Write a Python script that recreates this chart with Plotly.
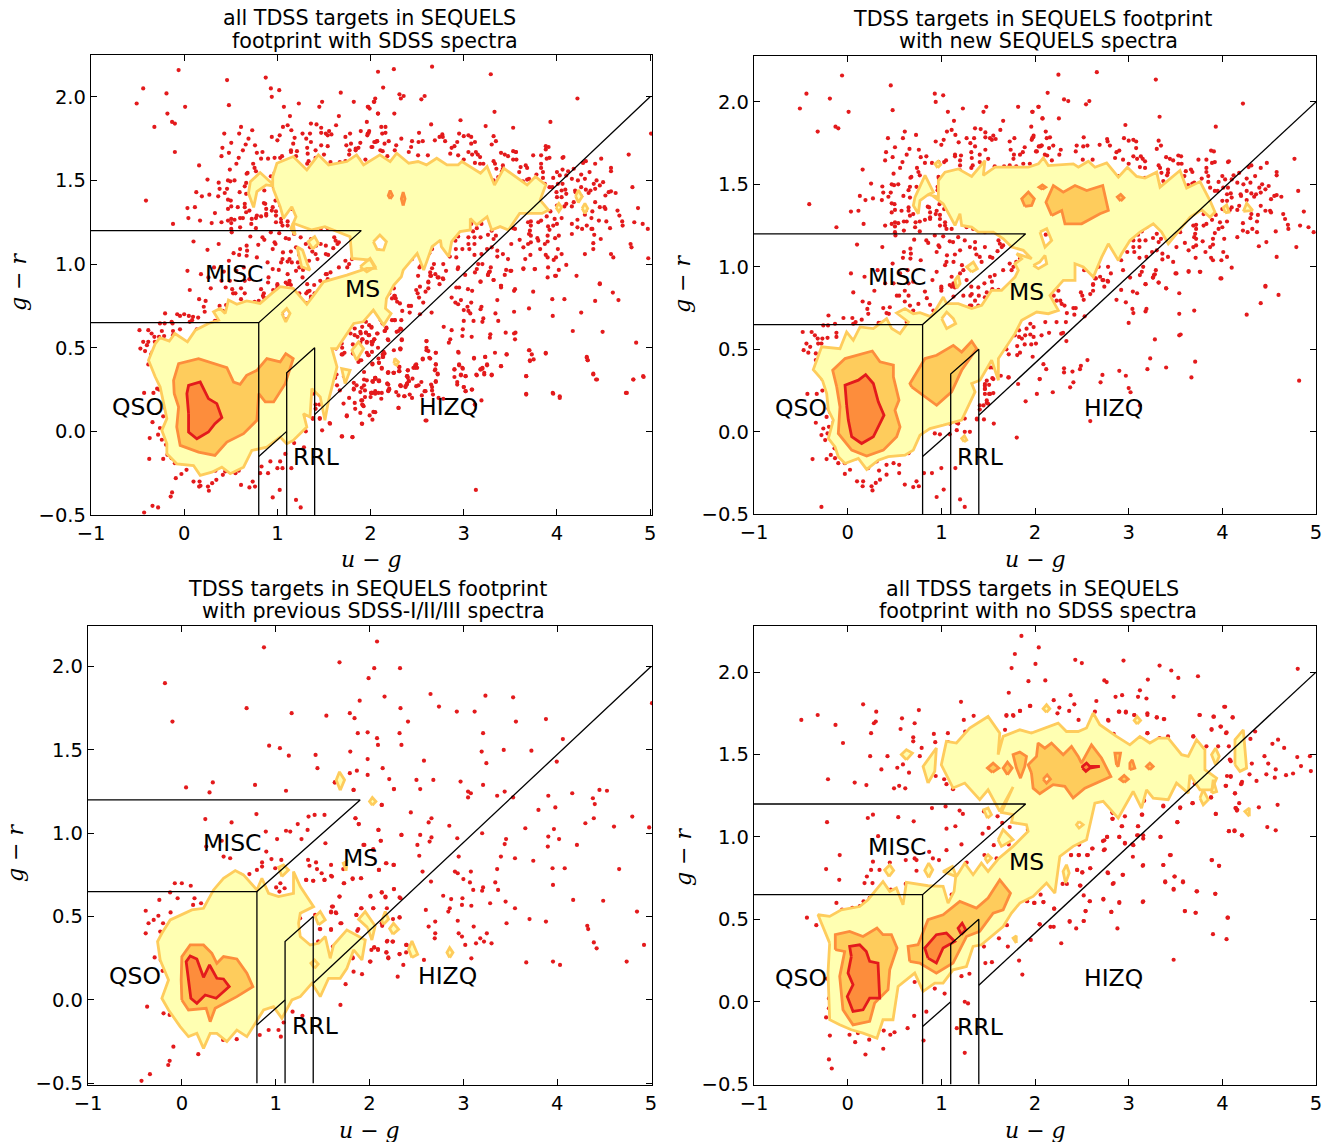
import plotly.graph_objects as go

W, H = 1342, 1142
# ---------- data: targets with new SEQUELS spectra (u-g, g-r)
new_spectra = [(-.51,1.96),(-.44,2.05),(-.06,2.16),(-.19,2.02),(.01,1.94),(-.32,1.82),(-.13,1.85),(-.10,1.84),(.16,1.59),(-.41,1.38),(-.12,1.24),(.46,2.10),(.48,1.95),(.93,2.05),(.94,2.0),(1.02,2.04),(1.07,1.94),(1.23,1.96),(1.135,1.885),(1.45,1.94),(1.48,1.97),(1.82,1.97),(1.97,1.94),(2.04,1.97),(2.08,1.90),(1.66,1.885),(1.63,1.83),(1.96,1.85),
(.61,1.82),(.73,1.80),(.43,1.78),(.59,1.78),(1.06,1.82),(1.11,1.83),(1.15,1.80),(.94,1.76),(1.025,1.77),(1.0,1.74),(1.185,1.755),(1.27,1.78),(1.36,1.84),(1.42,1.835),(1.47,1.815),(1.47,1.785),(1.52,1.78),(1.54,1.77),(1.555,1.795),(1.58,1.775),(1.31,1.75),(1.35,1.78),(1.36,1.73),
(1.73,1.76),(1.78,1.78),(1.97,1.78),(1.985,1.795),(1.89,1.725),(1.74,1.71),(2.02,1.70),(2.055,1.73),(2.07,1.735),(.505,1.725),(.41,1.695),(.48,1.665),(.40,1.645),(.66,1.715),(.63,1.68),(.76,1.71),(.78,1.665),(.84,1.67),(.585,1.635),(.56,1.60),(.825,1.63),(.90,1.63),(.97,1.635),(1.03,1.635),(1.05,1.645),(1.146,1.68),(1.146,1.67),(1.21,1.675),(1.20,1.645),(1.20,1.615),(1.20,1.585),(1.32,1.695),(1.325,1.66),(1.335,1.615),(1.32,1.60),(1.41,1.68),(1.41,1.635),(1.47,1.71),(1.50,1.655),(1.57,1.61),(1.67,1.61),(1.73,1.615),(1.77,1.655),(1.775,1.68),(1.84,1.68),(1.87,1.695),(1.80,1.61),(1.875,1.625),(1.945,1.625),
(.49,1.565),(.68,1.545),(.74,1.60),(.755,1.575),(.77,1.555),(.67,1.54),(.25,1.505),(.37,1.487),(.47,1.50),(.495,1.495),(.54,1.50),(.38,1.45),(.46,1.45),(.13,1.43),(.27,1.415),(.19,1.405),(.435,1.425),(.365,1.405),(.595,1.43),(.665,1.485),(.65,1.465),(.735,1.485),(.665,1.42),(.86,1.44),(.97,1.545),(.975,1.535),(.96,1.485),(.96,1.465),(1.15,1.51),(1.19,1.49),(1.20,1.535),
(.47,1.385),(.50,1.38),(.505,1.345),(.47,1.33),(.575,1.34),(.65,1.36),(.65,1.34),(.70,1.32),(.665,1.31),(.855,1.365),(.87,1.36),(.88,1.33),(.88,1.30),(.95,1.34),(.94,1.32),(.985,1.315),(.985,1.29),(.98,1.38),(1.03,1.35),(1.055,1.37),(1.15,1.38),(1.15,1.33),(1.18,1.335),(.035,1.335),(.115,1.34),
(.17,1.26),(.40,1.25),(.505,1.27),(.54,1.265),(.505,1.245),(.60,1.275),(.63,1.275),(.725,1.27),(.72,1.24),(.77,1.275),(.825,1.285),(.88,1.29),(.60,1.22),(.77,1.215),(.47,1.26),(1.04,1.27),(1.04,1.25),(1.055,1.23),(1.11,1.23),(.985,1.25),(1.27,1.24),(1.34,1.23),(1.465,1.21),(1.54,1.215),
(.10,1.135),(.37,1.12),(.505,1.21),(.51,1.19),(.71,1.165),(.67,1.11),(.60,1.09),(.675,1.08),(.59,1.055),(.67,1.05),(.78,1.04),(.84,1.16),(.86,1.145),(.93,1.19),(.97,1.13),(.98,1.12),(.95,1.09),(1.02,1.185),(1.09,1.155),(1.125,1.15),(1.18,1.18),(1.145,1.075),(1.2,1.10),(1.06,1.07),(1.055,1.03),(1.04,1.01),(1.13,1.03),(1.22,1.01),(1.25,1.16),(1.36,1.15),(1.36,1.11),(1.305,1.12),(1.465,1.12),(1.375,1.075),(1.41,1.06),(1.43,1.03),(1.52,1.06),(1.545,1.055),(1.61,1.16),(1.625,1.14),(1.66,1.13),(1.60,1.095),(1.645,1.12),(1.73,1.02),(1.77,1.0),(1.80,1.03),(1.84,1.05),(1.66,.98),(1.75,.98),
(.035,.96),(.18,.94),(.32,.98),(.48,1.02),(.40,.90),(.49,.90),(.56,.96),(.64,.98),(.70,.91),(.65,.90),(.905,.92),(.95,.97),(1.11,.94),(1.20,.96),(1.235,.98),(1.13,.90),(1.0,.88),(1.11,.88),(1.32,.88),(1.395,.875),(1.52,.94),(1.57,.95),(1.54,.91),
(.06,.845),(.285,.855),(.16,.79),(.23,.78),(.21,.745),(.22,.715),(-.205,.705),(-.045,.69),(.05,.69),(.15,.68),(.085,.665),(.06,.655),(-.26,.645),(-.21,.645),(-.135,.655),(.33,.66),(.355,.66),(.44,.715),(.38,.75),(.45,.755),(.415,.72),(.525,.825),(.55,.825),(.61,.855),(.65,.825),(.61,.79),(.665,.765),(.755,.775),(.70,.735),(.825,.85),(.845,.81),(.88,.77),(.915,.735),(.88,.69),(.63,.665),(.65,.645),(1.0,.87),(1.09,.89),(1.145,.875),(1.13,.82),(1.235,.825),(1.325,.835),(1.36,.795),(1.485,.845),(1.545,.865),(1.59,.845),(1.395,.765),(1.465,.815),(1.13,.765),(1.18,.765),(1.295,.745),(1.32,.765),(1.34,.715),(1.395,.725)]
new_qso = [(-.48,.605),(-.385,.605),(-.35,.585),(-.32,.565),(-.27,.565),(-.12,.60),(-.12,.575),(-.315,.535),(-.28,.535),(-.215,.57),(-.44,.535),(-.40,.515),(-.47,.495),(-.42,.48),(-.34,.475),(-.34,.435),(-.27,.32),(-.27,.25),(-.43,.23),(-.33,.23),(-.205,.20),(-.205,.14),(-.19,.12),(-.225,.09),(-.15,.06),(-.34,.055),(-.20,.03),(-.26,.02),(-.215,-.01),(-.28,-.02),(-.24,-.05),(-.14,-.10),(-.18,-.14),(-.375,-.165),(-.225,-.165),(-.135,-.16),(-.10,-.19),(-.03,-.19),(.095,-.16),(-.03,-.255),(.025,-.23),(.10,-.30),(.165,-.30),(.16,-.33),(.22,-.22),(.31,-.18),(.335,-.235),(.415,-.20),(.49,-.19),(.55,-.20),(.55,-.25),(.415,-.26),(.345,-.29),(.255,-.33),(.265,-.355),(.30,-.31),(.61,-.32),(.70,-.335),(.735,-.30),(.76,-.33),(.65,-.13),(.63,-.09),(.755,-.02),(.815,-.25),(.90,-.25),(1.0,-.22),(1.15,-.22),(1.025,-.35),(.95,-.395),(1.20,-.41),(1.25,-.455),(-.28,-.455),
(.93,-.01),(.985,-.015),(1.03,.05),(1.09,.05),(1.09,-.015),(1.165,.055),(1.18,.05),(1.25,.08),(1.165,.01),(1.25,0),(1.305,0),(1.38,.075),(1.465,.29),(1.465,.26),(1.52,.39),(1.545,.39),(1.465,.23),(1.45,.16),(1.485,.175),(1.555,.32),(1.715,.33),(1.82,.29),(2.05,.32),(1.90,.185),(2.02,.23),(1.805,-.035),(1.56,.05),(1.52,.23),(1.41,.135)]
new_strip = [(1.455,.075),(1.38,.08),(1.41,.16),(1.485,.19),(1.50,.17),(1.465,.28),(1.465,.26),(1.51,.285),(1.485,.31),(1.555,.235),(1.51,.23),(1.545,.325),(1.635,.34),(1.72,.33),(2.19,.24),(2.375,.27),(2.41,.30),(2.05,.32),(2.09,.41),(2.12,.38),(2.31,.385),(2.31,.36),(2.40,.365),(2.48,.38),(2.49,.40),(2.56,.435),(2.72,.345),(2.70,.30),(2.90,.37),(2.97,.34),(3.0,.265),(3.02,.24),(3.12,.16),(2.59,.065),(3.20,.38),(3.23,.445),(3.40,.39),(3.71,.425),(3.67,.33),(4.82,.31),(3.28,.56),(3.54,.585),(3.555,.59),(1.975,.455),
(1.63,.515),(1.63,.495),(1.69,.525),(1.695,.50),(1.72,.47),(1.81,.465),(1.84,.48),(1.81,.52),(1.89,.53),(1.96,.53),(2.01,.535),(1.785,.585),(1.83,.615),(1.83,.575),(1.86,.565),(1.895,.585),(1.95,.59),(1.985,.575),(1.91,.625),(1.95,.655),(1.985,.635),(2.07,.585),(2.15,.60),(2.28,.595),(2.30,.60),(2.335,.55),(2.11,.665),(2.23,.665),(2.33,.665),(2.42,.71),(2.34,.72),(2.41,.75),(2.435,.75),(2.53,.70),(1.85,.685),(2.20,.825),(2.23,.795),(2.27,.795),(2.285,.775),(2.315,.765),(2.25,.855),(2.49,.845),(2.505,.825),(2.52,.80),(2.59,.835),(2.62,.855),(2.62,.895),(2.73,.92),(2.65,.93),(2.78,.91),(2.92,.86),(2.87,.80),(2.97,.785),(3.04,.745),(3.05,.72),(3.045,.85),(3.09,.84),(3.0,.66),(3.19,.745),(3.18,.73),(3.18,.895),(3.32,.905),(3.40,.87),(3.27,.95),(3.26,.935),(3.54,.84),(3.54,.715),(3.70,.735),(3.51,.96),(3.64,.97),(3.76,.97),(3.99,.93),(4.26,.71),(4.41,.78),(4.46,.88),(4.60,.83),
(1.0,.855),(1.13,.885),(1.27,.92),(1.31,.825),(1.40,.825),(1.305,.765),(1.46,.90),(1.54,.855),(1.61,.86)]
new_upper = [(2.25,2.165),(2.66,2.18),(3.29,2.135),(2.135,2.055),(2.31,2.015),(2.355,2.005),(2.58,2.005),(2.545,1.985),(2.035,1.97),(1.975,1.94),(2.08,1.90),(2.255,1.90),(3.33,1.91),(2.965,1.86),(3.93,1.85),(4.22,1.99),(2.115,1.82),(2.16,1.785),(2.125,1.78),(1.98,1.785),(1.965,1.77),(2.445,1.735),(2.52,1.785),(2.56,1.735),(2.515,1.73),(2.69,1.74),(2.77,1.775),(2.775,1.76),(2.80,1.735),(2.95,1.78),(3.0,1.765),(3.05,1.77),(3.08,1.76),(3.08,1.72),(3.32,1.765),(3.345,1.735),(3.30,1.715),(2.07,1.735),(2.04,1.73),(2.15,1.72),(2.195,1.735),(2.275,1.71),(2.26,1.68),(2.01,1.70),(2.105,1.68),(2.13,1.675),(2.18,1.645),(2.435,1.70),(2.51,1.65),(2.615,1.65),(2.90,1.705),(2.87,1.695),(2.855,1.66),(2.94,1.65),(3.05,1.67),(3.09,1.655),(3.13,1.67),(3.15,1.655),(3.175,1.64),(3.175,1.60),(3.12,1.605),(3.0,1.625),(3.40,1.665),(3.44,1.655),(3.475,1.645),(3.53,1.675),(3.56,1.67),(3.53,1.625),(3.565,1.625),(3.745,1.65),(3.83,1.65),(3.88,1.705),(3.91,1.70),(3.89,1.63),(3.83,1.60),(3.92,1.635),(4.06,1.635),(4.07,1.64),(4.31,1.615),(4.28,1.605),(4.475,1.63),(4.41,1.60),(4.77,1.655),(4.58,1.575),(4.58,1.555),(4.81,1.46),(4.87,1.335),(4.975,1.21),(4.92,1.24),(4.83,1.25),(4.70,1.255),(4.705,1.23),(4.65,1.32),(4.67,1.29),(4.79,1.12),(4.57,1.215),(4.51,1.34),(4.52,1.33),(4.46,1.34),(4.38,1.315),(4.47,1.15),(4.39,1.125),(4.58,1.06),(4.37,1.21),(4.31,1.32),(4.30,1.295),(4.22,1.265),(4.22,1.22),(4.27,1.21),(4.32,1.23),(4.37,1.275),(4.16,1.18),
(4.41,1.37),(4.52,1.41),(4.555,1.43),(4.58,1.435),(4.63,1.425),(4.195,1.44),(4.20,1.43),(4.26,1.46),(4.31,1.445),(4.36,1.44),(4.34,1.425),(4.41,1.45),(4.46,1.47),(4.495,1.49),(4.425,1.50),(4.395,1.48),(4.35,1.55),(4.30,1.51),(4.26,1.535),(4.225,1.50),(4.16,1.51),(4.10,1.53),(4.12,1.555),(4.18,1.57),(4.03,1.53),(4.0,1.55),(4.06,1.48),(3.96,1.515),(4.01,1.48),(3.92,1.46),(3.95,1.46),(4.05,1.44),(4.09,1.445),(4.10,1.42),(4.0,1.40),(4.05,1.40),(4.10,1.36),(4.08,1.345),(4.16,1.345),(4.18,1.37),(4.26,1.405),(4.0,1.35),
(3.87,1.48),(3.85,1.515),(3.85,1.55),(3.83,1.575),(3.68,1.505),(3.70,1.51),(3.665,1.59),(3.68,1.575),(3.61,1.58),(3.78,1.535),(3.595,1.55),(3.635,1.495),(3.60,1.47),(3.42,1.59),(3.42,1.57),(3.335,1.60),(3.32,1.615),(3.35,1.57),(3.37,1.52),(3.32,1.50),(3.41,1.555),(3.175,1.54),(2.89,1.55),
(3.93,1.315),(3.80,1.32),(3.89,1.285),(3.80,1.25),(3.83,1.26),(3.69,1.25),(3.72,1.255),(3.72,1.23),(3.975,1.27),(4.05,1.275),(4.0,1.24),(3.96,1.23),(3.92,1.205),(3.90,1.17),(3.90,1.135),(3.87,1.12),(4.02,1.17),(3.71,1.20),(3.70,1.18),(3.72,1.17),(3.79,1.155),(3.72,1.13),(3.69,1.12),(3.60,1.145),(3.64,1.10),(3.51,1.12),(3.55,1.21),(3.42,1.27),(3.44,1.255),(3.41,1.31),(3.19,1.24),(3.10,1.195),(3.14,1.215),(2.94,1.165),(2.91,1.14),(3.05,1.16),(3.115,1.16),(3.18,1.16),(3.30,1.20),(3.26,1.175),(3.32,1.15),(3.345,1.17),(3.05,1.12),(3.115,1.12),(3.06,1.09),(2.915,1.09),(2.985,1.09),(3.25,1.09),(3.30,1.10),(3.36,1.08),(3.42,1.06),(3.36,1.045),(3.475,1.03),(3.115,1.055),(3.19,1.06),(3.715,1.055),(3.82,1.09),(3.88,1.055),(3.90,1.04),(3.99,1.04),(4.01,1.09),(4.05,1.06),(4.10,.995),(3.64,.975),(3.765,.97),(3.50,.96),(3.29,.98),(3.155,1.0),(3.14,.97),(3.12,.95),(3.28,.955),(3.26,.935),(3.18,.895),(3.32,.905),(3.015,.935),(2.92,1.04),(2.94,.98),(3.98,.93),(4.46,.885),(3.40,.87),(2.445,1.03),(2.68,1.0),(2.525,.98),(2.78,1.0),(2.81,.96),(2.695,.94),(2.72,.92),(2.775,.915),(2.64,.93),(2.62,.89),(2.74,.88),(2.18,1.165),(2.09,1.245),(2.115,1.195),(2.09,1.08),(2.115,1.075),(1.98,1.03),(2.02,1.04),(2.12,1.61)]

# ---------- targets with previous SDSS-I/II/III spectra
prev_low = [(.045,1.275),(.33,1.305),(.295,1.245),(.78,1.29),(1.11,1.255),(1.63,1.305),(1.83,1.26),(2.26,1.265),(2.13,1.17),(.795,1.115),(.25,1.085),(.53,1.065),(.895,1.01),(1.11,1.015),(1.155,1.01),(1.235,1.055),(1.34,1.02),(1.35,1.10),(1.415,1.11),(1.52,1.11),(1.275,.965),(1.53,.94),(1.015,.965),(1.85,1.09),(1.885,1.055),(2.095,1.02),(2.34,.99),(2.12,.955),(1.935,.93),(2.04,.90),(.425,.955),(.26,.92),(.90,.89),(.445,.86),(.515,.85),(.955,.845),(1.06,.84),(.855,.825),(.855,.80),(.80,.78),(.72,.755),(.635,.75),(.68,.725),(.995,.79),(1.345,.84),(1.43,.825),(1.36,.805),(1.44,.785),(1.49,.76),(1.59,.81),(1.72,.785),(1.745,.82),(1.59,.745),(1.325,.72),(1.40,.715),(1.52,.72),(1.725,.70),(1.82,.73),(1.91,.73),(2.175,.82),(2.255,.81),(2.10,.78),(-.075,.70),(0,.70),(.095,.685),(-.125,.645),(-.045,.61),(.135,.61),(.12,.57),(.205,.58),(-.24,.60),(-.385,.535),(-.12,.525),(-.355,.46),(-.30,.48),(-.25,.505),(-.20,.46),(-.23,.41),(-.385,.40),(-.225,.31),(-.29,.255),(-.225,.24),(-.205,.175),(-.37,-.04),(-.195,-.08),(-.13,-.09),(-.025,-.10),(.05,-.175),(-.09,-.28),(-.13,-.365),(-.145,-.39),(-.34,-.445),(-.43,-.485),(.175,-.325),(.44,-.24),(.585,-.235),(.83,-.21),(.925,-.18),(1.03,-.18),(1.055,-.22),(1.085,-.135),(1.18,-.07),(1.285,-.095),(.95,-.04),(1.69,-.03),(1.455,.08),(1.745,.095),(1.83,.17),(1.92,.155),(1.82,.25),(2.01,.23),(1.62,.32),(1.475,.425),(1.59,.42),(1.69,.46),(1.455,.35),(1.385,.225),(1.26,.49),(1.59,.525),(1.64,.525),(1.60,.56),(1.68,.62),(1.86,.51),(1.91,.55),(2.01,.62),(2.04,.55),(2.17,.62),(2.26,.665),(2.13,.645),(2.32,.615),(2.13,.46),(2.32,.495),(2.02,.405),(2.185,.35),(2.245,.35),(2.05,.315),(2.09,.305),(2.18,.285),(2.32,.275),(2.2,.255),(2.39,.33),(2.36,.21),(2.30,.14),(1.87,.415),(1.005,.675),(1.05,.70),(1.095,.67),(1.04,.65)]
prev_high = [(.875,2.115),(2.08,2.15),(1.68,2.025),(2.05,1.99),(2.325,1.99),(1.99,1.93),(1.895,1.795),(2.16,1.82),(2.65,1.835),(2.74,1.76),(2.93,1.73),(3.12,1.73),(3.235,1.825),(3.53,1.815),(3.56,1.67),(3.88,1.685),(4.06,1.565),(5.01,1.78),(1.17,1.72),(1.54,1.705),(1.79,1.72),(1.84,1.69),(2.33,1.75),(2.41,1.67),(1.875,1.60),(1.98,1.605),(2.08,1.57),(2.09,1.53),(2.32,1.60),(2.34,1.53),(3.21,1.60),(3.195,1.49),(3.245,1.42),(3.43,1.50),(3.725,1.495),(3.995,1.43),(.93,1.525),(1.045,1.51),(1.14,1.465),(1.425,1.47),(1.445,1.39),(1.795,1.49),(1.98,1.445),(2.14,1.39),(2.58,1.435),(1.865,1.375),(1.79,1.36),(1.98,1.35),(2.21,1.325),(2.50,1.32),(2.68,1.32),(2.97,1.31),(3.21,1.29),(2.26,1.265),(2.54,1.265),(3.05,1.25),(3.08,1.24),(3.05,1.215),(3.36,1.225),(3.44,1.25),(3.53,1.215),(3.905,1.225),(4.16,1.24),(4.45,1.26),(4.53,1.255),(4.38,1.21),(4.40,1.175),(3.98,1.155),(3.80,1.14),(1.63,1.305),(1.83,1.26),(2.13,1.17),(2.44,1.125),(2.66,1.09),(2.63,1.065),(2.85,1.045),(4.80,1.10),(4.39,1.09),(4.30,1.06),(4.605,1.04),(4.98,1.035),(3.66,1.03),(3.965,1.025),(1.85,1.09),(1.885,1.055),(2.095,1.02),(2.34,.99),(2.54,.99),(2.66,.975),(2.935,.97),(3.20,1.0),(3.455,.965),(3.44,.935),(3.905,.98),(4.02,.965),(3.90,.92),(4.21,.93),(2.12,.955),(2.51,.93),(2.64,.95),(1.945,.93),(2.53,.865),(2.95,.86),(3.40,.86),(3.55,.85),(3.745,.835),(2.18,.82),(2.26,.81),(2.04,.905),(2.10,.78),(2.565,.77),(2.91,.77),(2.94,.76),(3.08,.77),(3.36,.785),(3.95,.79),(4.08,.79),(4.66,.785),(3.0,.725),(3.07,.705),(3.34,.705),(2.655,.71),(3.955,.69),(3.105,.66),(3.21,.675),(3.20,.655),(3.37,.66),(2.26,.665),(2.13,.645),(2.17,.615),(2.01,.625),(2.33,.61),(1.68,.62),(1.91,.73),(1.82,.725),(1.73,.70),(1.60,.74),(1.52,.72),(1.40,.715),(1.325,.72),(2.785,.625),(2.87,.605),(2.99,.61),(2.985,.57),(3.085,.565),(3.285,.58),(3.45,.59),(3.55,.55),(4.17,.60),(4.49,.595),(4.85,.53),(2.60,.54),(2.855,.55),(2.84,.53),(2.94,.475),(3.46,.46),(3.705,.485),(3.88,.47),(2.70,.47),(2.63,.44),(3.11,.44),(2.70,.40),(2.95,.40),(2.985,.38),(2.695,.37),(3.18,.37),(3.25,.40),(3.22,.35),(3.30,.34),(3.135,.34),(3.02,.33),(4.32,.445),(4.33,.425),(4.39,.345),(4.42,.31),(4.925,.33),(3.085,.25),(3.67,.225),(3.955,.23),(4.03,.21),(4.74,.23),
(2.25,.485),(2.32,.495),(2.14,.475),(2.135,.445),(2.02,.40),(1.88,.425),(1.59,.425),(1.47,.425),(1.70,.46),(1.59,.53),(1.645,.52),(1.61,.56),(1.86,.51),(1.915,.55),(2.04,.55),(2.185,.55),(2.25,.35),(2.19,.355),(2.05,.315),(2.09,.30),(2.02,.30),(2.18,.285),(2.20,.25),(2.32,.275),(2.395,.33),(2.39,.285),(2.58,.24),(2.005,.23),(1.82,.255),(1.61,.32),(1.455,.35),(1.25,.49),(1.42,.51),(-.18,1.90),(-.10,1.67),(.69,1.75)]

# ---------- points seen only in the top-left panel
all_extra = [(1.89,.11),(1.99,.095),(2.05,.115),(2.02,.07),(1.91,.045),(2.30,.14),(2.60,.065),(3.13,-.35),(3.12,.16),(3.19,.185),(3.67,.22),(3.96,.225),(4.03,.20),(4.75,.23),(4.82,.31),(4.93,.325),(4.43,.31),(4.39,.34),(4.33,.425),(4.32,.44),(3.67,.33),(3.88,.465),(3.75,.43),(3.71,.42),(3.73,.46),(3.70,.485),(3.30,.335),(3.22,.34),(3.14,.335),(3.18,.37),(3.20,.375),(3.25,.395),(3.40,.39),(3.11,.435),(3.23,.445),(3.335,.47),(3.46,.46),(3.09,.25),(3.0,.265),(3.02,.24),(3.02,.33),(2.97,.335),(2.90,.325),(2.93,.295),(2.93,.28),(2.90,.37),(2.95,.395),(2.99,.375),(2.72,.34),(2.69,.365),(2.70,.40),(2.70,.47),(2.64,.435),(2.56,.43),(2.60,.485),(2.62,.48),(2.60,.50),(2.60,.54),(2.945,.47),
(2.70,.295),(2.65,.28),(2.66,.265),(2.66,.245),(2.67,.22),(2.59,.24),(2.55,.215),(2.73,.20),(2.78,.195),(2.545,.295),(2.515,.275),(2.49,.27),(2.41,.30),(2.39,.28),(2.375,.265),(2.325,.27),(2.45,.315),(2.40,.32),(2.40,.365),(2.305,.36),(2.305,.385),(2.46,.38),(2.48,.395),(2.50,.38),(2.25,.35),(2.19,.35),(2.12,.375),(2.09,.41),(2.085,.435),(2.13,.445),(2.15,.465),(2.32,.49),(2.335,.545),(2.19,.545),(2.19,.28),(2.19,.245),(2.12,.23),(2.085,.23),(2.05,.24),(2.01,.23),(2.025,.295),(2.05,.315),(2.09,.30),(2.275,.235),(2.30,.215),(2.365,.21),(2.42,.22),(2.445,.20),(2.115,.195),(1.94,.205),(1.91,.185),(1.925,.15),(1.93,.31),(1.93,.275),(1.905,.26),(1.89,.235),(1.94,.245),(1.93,.355),
(2.075,.585),(2.155,.60),(1.98,.575),(1.95,.59),(2.025,.535),(2.015,.52),(2.08,.50),(1.96,.535),(1.96,.47),(1.98,.455),(2.015,.475),(1.89,.595),(1.90,.425),(1.89,.505),(1.695,-.03),(1.806,-.034),(1.906,.046),(1.745,.09),(1.835,.135),(1.91,.16),(2.03,.116),(2.05,.225),(2.0,.205),(1.71,.166),(1.77,.20),(1.67,.245),(1.85,.275),(1.96,.305),(1.64,.275),(1.565,.046),(1.48,.006)]

# ---------- targets with no SDSS spectra
none_low = [(-.32,1.74),(-.13,1.68),(-.495,1.71),(.305,1.76),(.30,1.70),(.28,1.69),(.165,1.805),(.58,1.72),(.76,1.77),(.715,1.69),(.565,1.655),(-.05,1.57),(.25,1.63),(.425,1.49),(.24,1.49),(.70,1.605),(.70,1.58),(.92,1.625),(.935,1.575),(.79,1.54),(.77,1.49),(1.07,1.63),(1.07,1.575),(1.16,1.56),(1.24,1.71),(1.345,1.735),(1.255,1.64),(1.21,1.82),(1.695,1.74),(1.765,1.74),(1.84,1.765),(1.945,1.795),(1.68,1.65),(1.96,1.625),(1.57,1.57),(.36,1.41),(.53,1.42),(.59,1.44),(.655,1.39),(.91,1.49),(.94,1.37),(-.21,1.35),(.075,1.33),(.20,1.315),(.495,1.295),(.55,1.31),(.615,1.295),(1.03,1.35),(1.055,1.32),(1.125,1.29),(1.385,1.465),
(-.22,1.09),(.215,1.115),(.27,1.135),(.54,1.12),(.705,1.095),(.90,1.175),(1.045,1.185),(1.195,1.16),(1.23,1.14),(1.455,1.155),(1.60,1.125),(1.505,1.055),(1.055,1.05),(1.15,1.065),(1.65,1.085),(1.44,1.02),(1.56,.95),(.325,1.005),(-.085,.89),(.87,.91),(.91,.87),(.975,.86),(1.055,.92),(1.215,.955),(.715,.87),(.735,.86),(.62,.86),(.27,.85),(.45,.845),(1.27,.845),(1.46,.89),(1.59,.87),(-.23,.805),(.25,.80),(.34,.80),(.735,.795),(.205,.76),(-.09,.74),(.18,.72),(.265,.72),(.46,.68),(.62,.715),(.625,.66),(1.11,.65),(.235,.63),(-.12,.60),(-.06,.56),(.05,.57),(.13,.58),(.17,.61),(-.435,.51),(-.335,.465),
(.555,.23),(.715,.12),(.51,.035),(.93,.08),(1.035,.05),(1.215,.155),(1.30,.17),(1.25,0),(1.285,-.01),(1.54,.24),(1.47,.235),(1.455,.335),(1.49,.385),(1.615,.385),(1.71,.335),(1.70,.465),(1.58,.545),(1.915,.61),(1.99,.60),(2.09,.605),(2.205,.565),(2.05,.47),(2.165,.455),(2.20,.455),(2.44,.445),(1.955,.375),(2.28,.355),(1.83,.25),(1.865,.165),(2.37,.485),(2.52,.49),(2.54,.55),(2.815,.545),(2.73,.625),(2.585,.61),(2.90,.605),(2.88,.445),(3.155,.61),(3.60,.55),(3.715,.54),(4.055,.51),(3.90,.41),(4.045,.38),(3.48,.255),(3.725,.67),(3.925,.655),(3.48,.685),(3.58,.725),(3.49,.76),(3.39,.725),(3.37,.83),(3.44,.89),(3.155,.83),(3.89,.86),(3.965,.825),(3.34,1.0),(3.52,1.09),(2.935,.77),(2.83,.715),(2.775,.785),(2.59,.81),(2.505,.785),(2.45,.80),(2.485,.705),(2.295,.715),(2.385,.89),(2.465,.89),(2.555,.89),(2.615,.93),(2.47,.955),(2.52,1.10),(2.74,.98),(2.77,1.0),(2.735,.92),(2.90,1.0),(2.925,1.065),(2.83,1.145),(2.83,1.11),(2.96,.96),(3.05,.95),(3.10,1.01),(3.10,1.065),(3.145,1.135),(3.155,1.01),(2.70,1.245),(3.165,1.22),(3.37,1.185),(3.55,1.175),(3.685,1.205),(3.88,1.24),(3.93,1.14),(4.13,1.04),(4.07,1.035),(4.21,1.01),(4.145,1.175),(4.16,1.165),(4.135,1.265),(4.205,1.325),(4.09,1.37),(4.04,1.31),(4.08,1.47),(3.98,1.67),(4.045,1.635),(3.885,1.65),(4.11,1.725),(3.905,1.73),(3.76,1.74),(4.03,1.79),(3.42,1.61),(3.33,1.60),(3.2,1.63),(3.08,1.57),(3.09,1.53),(3.2,1.74),(3.06,1.74),(3.30,1.725),(3.375,1.715),(2.97,1.76),(2.90,1.76),(2.78,1.71),(2.58,1.655),(2.84,1.625),(3.62,1.47),(3.69,1.61),(3.76,1.53),(3.71,1.325),
(.71,-.085),(.84,-.06),(.81,-.235),(.64,-.16),(.50,-.185),(.455,-.20),(.385,-.175),(.20,-.18),(.23,-.23),(.11,-.19),(.02,-.20),(.08,-.245),(-.19,-.205),(-.23,-.095),(-.20,-.04),(-.12,-.11),(-.16,.015),(-.20,.02),(-.22,.14),(.38,-.285),(.19,-.32),(-.20,-.35),(-.17,-.405),(1.165,-.16),(1.25,-.31),(1.39,.79),(1.81,1.255),(1.925,1.045),(2.16,.93)]
none_high = [(1.855,2.22),(2.04,2.15),(1.785,2.11),(1.75,2.025),(2.005,2.05),(1.93,1.945),(2.11,1.95),(1.72,1.875),(2.43,2.075),(2.50,2.055),(2.945,2.07),(3.33,2.04),(3.455,2.01),(3.53,1.965),(3.74,1.975),(4.805,2.02),(3.205,1.955),(2.74,1.95),(2.765,1.94),(3.12,1.89),(3.10,1.85),(3.19,1.84),(3.48,1.85),(2.86,1.85),(2.93,1.86),(2.38,1.86),(2.2,1.83),(2.42,1.805),(2.655,1.825),(1.95,1.795),(2.26,1.785),(2.365,1.765),(2.24,1.75),(1.84,1.765),(1.695,1.735),(1.77,1.735),(2.64,1.76),(2.895,1.76),(2.97,1.755),(3.06,1.74),(3.2,1.75),(3.30,1.725),(3.38,1.715),(2.785,1.705),(2.465,1.71),(3.755,1.74),(3.91,1.73),(4.02,1.79),(4.11,1.725),(3.885,1.655),(3.985,1.67),(4.04,1.63),(4.35,1.64),(4.30,1.595),(3.2,1.63),(3.69,1.61),(3.83,1.55),(3.955,1.55),(4.07,1.55),(4.595,1.59),(4.535,1.565),(4.66,1.54),(4.45,1.49),(4.49,1.445),(4.80,1.485),(4.935,1.49),(4.84,1.43),(4.945,1.40),(4.755,1.385),(4.68,1.375),(4.57,1.41),(4.47,1.38),(4.56,1.36),(4.365,1.34),(4.29,1.38),(4.21,1.335),(4.20,1.32),(4.315,1.445),(4.09,1.46),(4.16,1.51),(3.92,1.50),(4.05,1.37),(4.09,1.365),(4.035,1.31),(4.135,1.265),(4.18,1.205),(4.14,1.175),(4.155,1.16),(4.39,1.18),(4.59,1.195),(4.48,1.06),(4.57,1.04),(4.21,1.01),(4.13,1.035),(4.07,1.035),(3.93,1.14),(3.88,1.24),(3.68,1.205),(3.55,1.18),(3.37,1.19),(3.52,1.09),(3.21,1.295),(3.16,1.22),(3.14,1.135),(2.96,1.125),(2.825,1.15),(2.825,1.11),(3.10,1.065),(2.93,1.065),(2.70,1.25),(3.61,1.47),(3.705,1.325),(3.09,1.535),(2.52,1.10),(1.925,1.05),(1.73,1.06),(1.72,.955),(2.165,.935),(2.47,.955),(2.61,.93),(2.745,.925),(2.725,.975),(2.77,1.0),(2.90,1.0),(2.96,.965),(3.09,1.01),(3.155,.99),(3.34,1.0),(3.04,.955),(2.385,.89),(2.47,.89),(2.565,.89),(3.045,.88),(3.45,.89),(3.885,.86),(3.965,.825),(3.15,.825),(3.37,.83),(2.45,.80),(2.505,.785),(2.59,.81),(2.78,.78),(2.94,.77),(3.49,.76),(3.39,.73),(3.58,.73),(2.84,.72),(2.48,.705),(2.34,.715),(2.52,.645),(2.06,.65),(3.48,.68),(3.73,.67),(3.925,.655),(2.73,.62),(2.585,.61),(2.90,.60),(3.15,.605),(1.915,.61),(1.995,.60),(2.09,.605),(2.205,.565),(2.54,.55),(2.815,.545),(3.60,.55),(3.715,.54),(4.06,.51),(2.37,.49),(2.52,.49),(2.05,.47)]

# ---------- density contours, one list of rings per level; holes are punched through
a_L1 = [[(-.383,.425),(-.31,.525),(-.26,.56),(-.16,.54),(-.10,.585),(.035,.535),(.12,.605),(.26,.645),(.37,.665),(.315,.715),(.385,.735),(.44,.705),(.475,.785),(.565,.76),(.67,.78),(.815,.765),(.94,.825),(1.03,.865),(1.17,.855),(1.316,.76),(1.405,.825),(1.495,.894),(1.745,.934),(1.96,.974),(2.05,.974),(2.0,1.024),(1.8,1.034),(1.78,1.164),(1.6,1.204),(1.51,1.224),(1.37,1.204),(1.17,1.244),(1.2,1.283),(1.155,1.343),(1.065,1.273),(1.03,1.343),(.96,1.443),(.94,1.483),(.815,1.547),(.71,1.493),(.69,1.423),(.745,1.339),(.78,1.433),(.88,1.473),(.95,1.467),(.95,1.523),(.995,1.603),(1.17,1.643),(1.316,1.563),(1.44,1.653),(1.55,1.593),(1.745,1.613),(1.85,1.653),(1.925,1.593),(2.10,1.653),(2.21,1.613),(2.28,1.663),(2.41,1.603),(2.51,1.613),(2.60,1.593),(2.71,1.633),(2.82,1.593),(2.94,1.593),(2.98,1.613),(3.18,1.543),(3.25,1.583),(3.33,1.473),(3.43,1.573),(3.68,1.473),(3.77,1.523),(3.88,1.473),(3.82,1.383),(3.91,1.323),(3.84,1.303),(3.60,1.303),(3.48,1.204),(3.39,1.224),(3.30,1.204),(3.25,1.283),(3.14,1.234),(3.07,1.273),(3.07,1.204),(2.96,1.194),(2.87,1.134),(2.84,1.044),(2.76,1.104),(2.75,1.144),(2.66,1.104),(2.57,.964),(2.50,1.064),(2.35,.964),(2.33,.924),(2.25,.874),(2.17,.794),(2.16,.735),(2.22,.705),(2.14,.635),(2.03,.725),(1.92,.655),(1.82,.645),(1.745,.585),(1.64,.495),(1.585,.495),(1.64,.385),(1.55,.186),(1.51,.066),(1.46,.206),(1.37,.255),(1.35,.086),(1.28,.106),(1.316,.026),(1.17,-.054),(1.10,-.074),(1.03,-.034),(.887,-.094),(.726,-.114),(.637,-.214),(.494,-.253),(.404,-.214),(.297,-.244),(.172,-.263),(.10,-.204),(-.08,-.194),(-.186,-.134),(-.186,-.074),(-.24,.006),(-.186,.076),(-.22,.166),(-.258,.265),(-.31,.325)],
[(1.80,.485),(1.87,.535),(1.925,.495),(1.85,.425)],[(1.69,.375),(1.78,.365),(1.727,.285)],[(2.26,.435),(2.30,.415),(2.28,.395),(2.25,.405)],[(4.23,1.443),(4.27,1.403),(4.23,1.369),(4.20,1.407)],[(4.30,1.363),(4.33,1.333),(4.30,1.303),(4.27,1.333)],[(4.02,1.363),(4.05,1.339),(4.02,1.313),(3.99,1.339)],[(1.33,1.134),(1.40,1.164),(1.44,1.124),(1.38,1.09)],[(1.21,1.104),(1.26,.984),(1.35,.964),(1.32,1.004),(1.27,1.084)],[(1.145,1.214),(1.17,1.244),(1.19,1.174)]]
a_L1_holes = [[(2.03,1.134),(2.10,1.174),(2.17,1.134),(2.14,1.084),(2.07,1.088)],[(1.888,.984),(1.995,1.034),(2.05,.984),(1.96,.954)],[(1.048,.705),(1.10,.735),(1.136,.705),(1.09,.655)]]
a_L2 = [[(-.114,.305),(-.06,.405),(.154,.435),(.458,.381),(.53,.295),(.60,.281),(.67,.335),(.78,.365),(.83,.395),(.887,.435),(1.03,.415),(1.09,.465),(1.17,.435),(1.084,.285),(.96,.176),(.87,.176),(.80,.226),(.78,.066),(.637,-.014),(.458,-.064),(.33,-.144),(.154,-.124),(-.043,-.084),(-.08,.026),(-.06,.146),(-.107,.226)],[(2.19,1.41),(2.21,1.44),(2.235,1.41),(2.21,1.39)],[(2.33,1.39),(2.35,1.43),(2.37,1.39),(2.35,1.35)]]
a_L3 = [[(.029,.226),(.047,.275),(.172,.295),(.26,.196),(.35,.166),(.404,.082),(.33,.046),(.26,-.004),(.136,-.044),(.047,-.004),(.047,.106)]]

b_L1 = [[(-.367,.377),(-.278,.515),(-.082,.504),(-.011,.605),(.06,.555),(.132,.636),(.274,.626),(.416,.686),(.47,.626),(.559,.595),(.648,.666),(.523,.72),(.612,.747),(.701,.716),(.772,.722),(.879,.70),(.915,.716),(1.021,.817),(1.057,.777),(1.181,.777),(1.324,.747),(1.431,.767),(1.537,.858),(1.644,.858),(1.751,.918),(1.786,.938),(1.822,.979),(1.786,1.019),(1.858,1.049),(1.804,1.08),(1.964,1.049),(1.875,1.10),(1.751,1.12),(1.662,1.17),(1.555,1.211),(1.395,1.211),(1.324,1.241),(1.217,1.251),(1.199,1.322),(1.146,1.251),(1.075,1.322),(1.021,1.382),(.879,1.443),(.915,1.453),(.826,1.554),(.719,1.423),(.701,1.372),(.754,1.322),(.772,1.402),(.861,1.439),(.968,1.423),(.968,1.523),(1.039,1.574),(1.181,1.594),(1.324,1.548),(1.466,1.644),(1.448,1.554),(1.573,1.604),(1.929,1.604),(2.036,1.624),(2.089,1.661),(2.142,1.614),(2.409,1.624),(2.463,1.604),(2.569,1.64),(2.64,1.604),(2.765,1.63),(2.89,1.544),(2.986,1.604),(3.085,1.548),(3.174,1.538),(3.299,1.574),(3.335,1.483),(3.548,1.584),(3.619,1.477),(3.762,1.517),(3.868,1.402),(3.922,1.332),(3.868,1.301),(3.779,1.346),(3.655,1.301),(3.541,1.221),(3.423,1.14),(3.352,1.211),(3.263,1.261),(3.121,1.211),(3.014,1.16),(2.925,1.08),(2.89,1.039),(2.783,1.14),(2.712,1.059),(2.623,.938),(2.516,.999),(2.427,1.019),(2.427,.918),(2.302,.918),(2.16,.827),(2.249,.736),(2.142,.716),(2.018,.726),(1.858,.676),(1.786,.595),(1.609,.444),(1.609,.313),(1.537,.434),(1.413,.313),(1.324,.293),(1.36,.242),(1.217,.071),(1.021,.04),(.879,.02),(.772,-.02),(.701,-.111),(.612,-.141),(.434,-.151),(.327,-.172),(.203,-.228),(.114,-.161),(-.028,-.192),(-.1,-.151),(-.135,-.091),(-.206,-.04),(-.153,.071),(-.206,.131),(-.224,.232),(-.27,.313)],
[(1.27,.999),(1.342,1.029),(1.384,.989),(1.324,.969)],[(1.146,.918),(1.181,.948),(1.2,.898),(1.164,.87)],[(.932,1.625),(.968,1.64),(.993,1.62),(.961,1.6)],[(4.26,1.386),(4.324,1.342),(4.224,1.336)],[(4.011,1.36),(4.046,1.376),(4.071,1.332),(4.029,1.328)],[(1.217,-.04),(1.246,-.024),(1.271,-.05),(1.242,-.06)]]
b_L1_holes = [[(1.004,.686),(1.057,.726),(1.128,.686),(1.153,.656),(1.057,.626)],[(1.982,1.009),(2.05,1.029),(2.107,1.069),(2.125,1.019),(2.036,.989)],[(2.053,1.211),(2.125,1.231),(2.178,1.16),(2.107,1.12)]]
b_L2 = [[(-.16,.373),(-.028,.444),(.263,.49),(.345,.424),(.488,.404),(.488,.333),(.548,.192),(.505,.131),(.559,.03),(.523,-.03),(.381,-.111),(.203,-.147),(.043,-.111),(-.1,-.01),(-.082,.151),(-.117,.272)],[(.665,.292),(.826,.444),(.95,.464),(1.128,.524),(1.217,.484),(1.324,.549),(1.377,.504),(1.217,.373),(1.11,.242),(.95,.161),(.826,.212),(.683,.272)],[(2.117,1.392),(2.196,1.493),(2.302,1.453),(2.427,1.493),(2.552,1.463),(2.723,1.493),(2.783,1.342),(2.694,1.322),(2.498,1.261),(2.32,1.261),(2.285,1.342),(2.178,1.311)],[(1.858,1.412),(1.929,1.453),(1.993,1.412),(1.964,1.372),(1.893,1.366)],[(2.879,1.423),(2.915,1.439),(2.95,1.419),(2.915,1.399)],[(2.043,1.483),(2.079,1.497),(2.114,1.483),(2.079,1.47)]]
b_L3 = [[(-.028,.282),(.114,.313),(.192,.347),(.274,.293),(.327,.182),(.388,.101),(.274,-.03),(.149,-.071),(.043,-.03),(.007,.071),(-.011,.161)]]

c_L1 = [[(-.259,.35),(-.213,.40),(-.124,.48),(.107,.54),(.231,.55),(.338,.66),(.444,.73),(.569,.776),(.657,.75),(.80,.66),(.853,.73),(.924,.64),(1.031,.62),(1.19,.64),(1.19,.77),(1.262,.68),(1.404,.56),(1.262,.52),(1.244,.46),(1.262,.38),(1.368,.33),(1.457,.34),(1.528,.38),(1.581,.25),(1.617,.33),(1.759,.42),(1.955,.36),(1.919,.24),(1.83,.30),(1.759,.19),(1.688,.13),(1.564,.13),(1.475,.02),(1.386,.10),(1.262,.02),(1.173,0),(1.066,-.11),(.977,-.04),(.871,-.06),(.80,-.12),(.693,-.22),(.586,-.18),(.48,-.25),(.373,-.20),(.302,-.20),(.231,-.29),(.16,-.20),(.071,-.22),(-.018,-.16),(-.142,-.06),(-.213,.01),(-.142,.12),(-.231,.24)],
[(1.031,.796),(1.084,.81),(1.137,.78),(1.066,.74)],[(1.421,.50),(1.475,.53),(1.528,.48),(1.457,.45)],[(1.375,.22),(1.414,.24),(1.453,.216),(1.414,.19)],[(1.883,.484),(1.954,.53),(2.06,.444),(2.025,.36),(1.98,.434)],[(2.13,.474),(2.167,.53),(2.203,.484),(2.15,.454)],[(2.214,.428),(2.256,.46),(2.31,.424),(2.25,.394)],[(1.645,1.32),(1.68,1.368),(1.734,1.32),(1.688,1.258)],[(2.0,1.19),(2.03,1.214),(2.068,1.19),(2.03,1.168)],[(2.416,.304),(2.452,.354),(2.513,.274),(2.452,.254)],[(2.825,.284),(2.854,.314),(2.889,.284),(2.854,.254)],[(1.72,.82),(1.76,.83),(1.75,.775)]]
c_L2 = [[(-.007,.12),(0,.26),(.089,.33),(.231,.33),(.32,.28),(.373,.22),(.444,.26),(.586,.246),(.693,.16),(.757,.08),(.586,.02),(.355,-.05),(.302,-.13),(.259,-.05),(.071,-.06),(0,0)]]
c_L3 = [[(.046,.23),(.089,.264),(.16,.246),(.231,.136),(.295,.21),(.373,.13),(.444,.126),(.505,.08),(.366,.01),(.249,.03),(.16,-.02),(.096,.01),(.071,.12)]]

d_L1 = [[(-.317,.528),(-.192,.518),(-.068,.558),(.128,.578),(.217,.619),(.377,.73),(.449,.67),(.52,.69),(.591,.589),(.627,.724),(.858,.704),(1.019,.70),(1.072,.599),(1.136,.67),(1.154,.76),(1.019,.791),(1.118,.821),(1.161,.76),(1.25,.841),(1.339,.771),(1.428,.841),(1.499,.791),(1.606,.866),(1.766,.943),(1.927,1.034),(1.909,1.074),(1.749,1.088),(1.766,1.135),(1.642,1.149),(1.766,1.303),(1.624,1.155),(1.499,1.286),(1.41,1.226),(1.25,1.327),(1.125,1.297),(1.0,1.438),(1.054,1.58),(1.161,1.57),(1.303,1.661),(1.499,1.731),(1.624,1.63),(1.606,1.499),(1.66,1.61),(1.838,1.65),(1.962,1.63),(2.247,1.691),(2.336,1.64),(2.461,1.64),(2.55,1.661),(2.621,1.752),(2.692,1.681),(2.87,1.61),(3.013,1.559),(3.12,1.61),(3.226,1.57),(3.316,1.6),(3.422,1.6),(3.565,1.499),(3.636,1.489),(3.725,1.59),(3.814,1.529),(3.814,1.408),(3.939,1.357),(3.885,1.286),(3.761,1.286),(3.654,1.377),(3.636,1.266),(3.511,1.327),(3.422,1.226),(3.262,1.236),(3.191,1.286),(3.137,1.175),(3.048,1.276),(2.888,1.114),(2.728,1.216),(2.639,1.205),(2.603,1.125),(2.55,.983),(2.407,.943),(2.265,.882),(2.212,.659),(2.123,.72),(1.98,.639),(1.838,.599),(1.749,.538),(1.66,.457),(1.428,.346),(1.339,.336),(1.268,.214),(1.125,.194),(1.019,.113),(.93,.113),(.805,.063),(.716,.174),(.538,.093),(.484,-.109),(.377,-.109),(.313,-.221),(.164,-.19),(.039,-.17),(-.085,-.14),(-.192,-.109),(-.21,.174),(-.192,.356)],
[(.573,1.5),(.627,1.529),(.691,1.509),(.627,1.468)],[(.805,1.428),(.947,1.54),(.93,1.398),(.858,1.327)],[(.395,.80),(.449,.83),(.491,.797),(.442,.76)],[(.823,.797),(.865,.841),(.908,.801),(.865,.754)],[(1.453,1.165),(1.499,1.175),(1.535,1.135),(1.492,1.114)],[(2.30,.791),(2.336,.831),(2.365,.781),(2.326,.72)],[(1.766,.386),(1.80,.40),(1.80,.356)],[(2.087,1.778),(2.123,1.802),(2.158,1.778),(2.123,1.756)],[(3.059,1.707),(3.091,1.731),(3.127,1.707),(3.091,1.685)],[(3.885,1.499),(3.928,1.539),(3.967,1.489),(3.928,1.438)],[(4.135,1.59),(4.224,1.65),(4.259,1.418),(4.188,1.398),(4.135,1.438)],[(3.796,1.286),(3.85,1.226),(3.796,1.195),(3.761,1.236)],[(3.903,1.347),(3.939,1.276),(3.885,1.266)],[(4.241,1.155),(4.288,1.175),(4.288,1.125)]]
d_L1_holes = [[(1.606,.983),(1.66,1.044),(1.766,.983),(1.642,.943)],[(1.464,.872),(1.499,.892),(1.535,.872),(1.492,.847)],[(2.47,1.094),(2.514,1.074),(2.47,1.054),(2.443,1.074)]]
d_L2 = [[(1.492,1.418),(1.553,1.448),(1.613,1.418),(1.546,1.392)],[(1.66,1.418),(1.706,1.454),(1.756,1.418),(1.706,1.377)],[(1.766,1.499),(1.838,1.515),(1.909,1.489),(1.891,1.428),(1.845,1.357),(1.802,1.418)],[(1.927,1.438),(2.016,1.489),(2.033,1.57),(2.105,1.539),(2.176,1.57),(2.301,1.499),(2.39,1.549),(2.461,1.489),(2.496,1.448),(2.603,1.559),(2.71,1.479),(2.81,1.367),(2.657,1.327),(2.532,1.296),(2.407,1.236),(2.318,1.307),(2.194,1.317),(2.051,1.262),(1.98,1.296),(1.962,1.388)],[(2.853,1.509),(2.913,1.509),(2.888,1.428),(2.87,1.438)],[(3.013,1.448),(3.038,1.468),(3.066,1.418),(3.013,1.408)],[(3.19,1.428),(3.226,1.448),(3.262,1.428),(3.226,1.408)],[(2.906,1.351),(2.952,1.373),(2.995,1.351),(2.952,1.331)],[(-.132,.407),(.021,.427),(.164,.396),(.313,.447),(.377,.407),(.467,.407),(.527,.326),(.449,.194),(.431,.073),(.288,-.008),(.235,-.119),(.057,-.14),(-.05,-.049),(-.085,.154),(-.032,.305),(-.132,.316)],[(.645,.336),(.751,.346),(.858,.498),(1.019,.528),(1.197,.609),(1.375,.568),(1.499,.629),(1.624,.74),(1.738,.659),(1.66,.558),(1.553,.538),(1.41,.427),(1.268,.396),(1.125,.235),(.947,.174),(.769,.235),(.662,.245)]]
d_L2_holes = [[(2.087,1.351),(2.13,1.377),(2.165,1.351),(2.123,1.327)]]
d_L3 = [[(.021,.336),(.128,.346),(.199,.305),(.235,.245),(.324,.235),(.342,.022),(.235,.022),(.164,-.049),(.057,-.059),(-.004,.032),(.057,.103),(.004,.174),(.039,.275)],[(.823,.326),(.947,.407),(1.054,.417),(1.143,.366),(1.019,.326),(.947,.235),(.858,.265)],[(1.179,.447),(1.222,.477),(1.261,.437),(1.214,.407)],[(2.507,1.428),(2.55,1.448),(2.585,1.428),(2.692,1.428),(2.585,1.418),(2.543,1.398),(2.507,1.418)]]

# ---------- colour-colour selection boundaries
boundaries = [[(-1,1.2),(1.9,1.2),(.8,.65),(-1,.65)],[(.8,.65),(.8,-.5)],[(.8,-.15),(1.1,0)],[(1.1,-.5),(1.1,.35),(1.4,.5),(1.4,-.5)],[(1.4,.1),(5,2.0)]]
region_labels = [("MISC",.2,.94),("MS",1.7,.85),("QSO",-.8,.145),("RRL",1.15,-.155),("HIZQ",2.5,.145)]
x_ticks = [-1,0,1,2,3,4,5]
y_ticks = [-.5,0,.5,1,1.5,2]

panels = [
 dict(n="",  box=(91,652,55,515),   xr=[-1,5.02], yr=[-.5,2.25],  pts=new_spectra+new_qso+new_strip+new_upper+prev_low+prev_high+all_extra,
      L1=a_L1,L1h=a_L1_holes,L2=a_L2,L2h=[],L3=a_L3, xl=(371,560), yl=(18,282),
      t=[("all TDSS targets in SEQUELS",369,18),("footprint with SDSS spectra",375,41)]),
 dict(n="2",box=(754,1316,55.7,514.3),xr=[-1,5],  yr=[-.5,2.28],  pts=new_spectra+new_qso+new_strip+new_upper,
      L1=b_L1,L1h=b_L1_holes,L2=b_L2,L2h=[],L3=b_L3, xl=(1035,560), yl=(683,284),
      t=[("TDSS targets in SEQUELS footprint",1032,19),("with new SEQUELS spectra",1038,41)]),
 dict(n="3",box=(88,652,626,1085),  xr=[-1,5.01], yr=[-.51,2.243],pts=prev_low+prev_high,
      L1=c_L1,L1h=[],L2=c_L2,L2h=[],L3=c_L3, xl=(370,1130), yl=(15,853),
      t=[("TDSS targets in SEQUELS footprint",367,589),("with previous SDSS-I/II/III spectra",374,611)]),
 dict(n="4",box=(754,1316,626,1085),xr=[-1,5],    yr=[-.505,2.28],pts=none_low+none_high,
      L1=d_L1,L1h=d_L1_holes,L2=d_L2,L2h=d_L2_holes,L3=d_L3, xl=(1035,1130), yl=(683,857),
      t=[("all TDSS targets in SEQUELS",1032,589),("footprint with no SDSS spectra",1038,611)]),
]

FILL = ["#ffffb2","#fecc5c","#fd8d3c"]
EDGE = ["#fecc5c","#fd8d3c","#e31a1c"]
SANS = "DejaVu Sans"
SERIF = "DejaVu Serif"

def area(r):
    return sum(r[i][0]*r[(i+1)%len(r)][1]-r[(i+1)%len(r)][0]*r[i][1] for i in range(len(r)))

def rings_xy(rings, holes=()):
    xs, ys = [], []
    for r, sign in [(r,1) for r in rings]+[(r,-1) for r in holes]:
        rr = list(r) if area(r)*sign > 0 else list(r)[::-1]
        rr = rr+[rr[0]]
        xs += [p[0] for p in rr]+[None]
        ys += [p[1] for p in rr]+[None]
    return xs, ys

fig = go.Figure()
layout = dict(width=W, height=H, autosize=False, margin=dict(l=0,r=0,t=0,b=0),
              paper_bgcolor="white", plot_bgcolor="white", showlegend=False,
              font=dict(family=SANS,color="black"), annotations=[])

for p in panels:
    n = p["n"]; l,r,t,b = p["box"]
    xa, ya = "x"+n, "y"+n
    common = dict(showgrid=False, zeroline=False, showline=True, linecolor="black", linewidth=1.3,
                  mirror="ticks", ticks="inside", ticklen=6, tickwidth=1, tickcolor="black", automargin=False,
                  tickfont=dict(family=SANS,size=19.5,color="black"))
    layout["xaxis"+n] = dict(common, domain=[l/W,r/W], range=p["xr"], anchor=ya, tickvals=x_ticks)
    layout["yaxis"+n] = dict(common, domain=[1-b/H,1-t/H], range=p["yr"], anchor=xa, tickvals=y_ticks, tickformat=".1f")
    fig.add_trace(go.Scatter(x=[q[0] for q in p["pts"]], y=[q[1] for q in p["pts"]], mode="markers",
                             marker=dict(size=4.2,color="#e31a1c",line=dict(width=0)), xaxis=xa, yaxis=ya,
                             hoverinfo="skip"))
    for i,(rings,holes) in enumerate([(p["L1"],p["L1h"]),(p["L2"],p["L2h"]),(p["L3"],[])]):
        xs, ys = rings_xy(rings, holes)
        fig.add_trace(go.Scatter(x=xs, y=ys, mode="lines", fill="toself", fillcolor=FILL[i],
                                 line=dict(color=EDGE[i],width=2.8), xaxis=xa, yaxis=ya, hoverinfo="skip"))
    for seg in boundaries:
        fig.add_trace(go.Scatter(x=[q[0] for q in seg], y=[q[1] for q in seg], mode="lines",
                                 line=dict(color="black",width=1.3), xaxis=xa, yaxis=ya, hoverinfo="skip"))
    for txt,x,y in region_labels:
        layout["annotations"].append(dict(text=txt,x=x,y=y,xref=xa,yref=ya,xanchor="left",yanchor="middle",
                                          showarrow=False,font=dict(family=SANS,size=23.5,color="black")))
    for txt,cx,cy in p["t"]:
        layout["annotations"].append(dict(text=txt,x=cx/W,y=1-cy/H,xref="paper",yref="paper",xanchor="center",
                                          yanchor="middle",showarrow=False,font=dict(family=SANS,size=20.7,color="black")))
    layout["annotations"].append(dict(text="<i>u</i> − <i>g</i>",x=p["xl"][0]/W,y=1-p["xl"][1]/H,xref="paper",yref="paper",
                                      xanchor="center",yanchor="middle",showarrow=False,font=dict(family=SERIF,size=22,color="black")))
    layout["annotations"].append(dict(text="<i>g</i> − <i>r</i>",x=p["yl"][0]/W,y=1-p["yl"][1]/H,xref="paper",yref="paper",textangle=-90,
                                      xanchor="center",yanchor="middle",showarrow=False,font=dict(family=SERIF,size=22,color="black")))

fig.update_layout(**layout)
fig.write_html("out.html", post_script="document.body.style.margin='0';", config={"displayModeBar":False})
